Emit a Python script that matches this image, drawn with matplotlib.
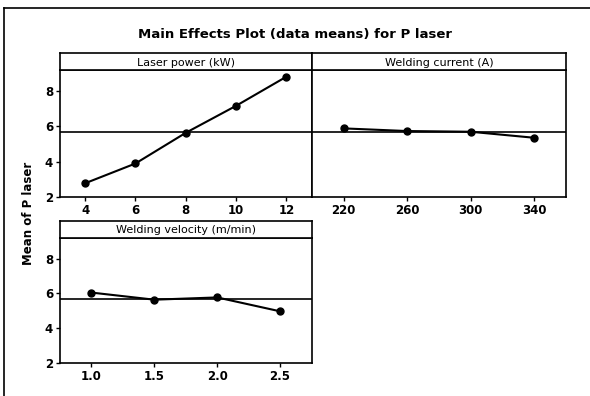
import matplotlib.pyplot as plt
from matplotlib.lines import Line2D

# dados
potencia_laser = [4, 6, 8, 10, 12]
media_potencia = [2.78, 3.90, 5.64, 7.17, 8.82]

corrente = [220, 260, 300, 340]
media_corrente = [5.89, 5.74, 5.70, 5.36]

velocidade = [1.0, 1.5, 2.0, 2.5]
media_velocidade = [6.04, 5.63, 5.76, 4.96]

media_geral = 5.66

paineis = [
    ("Laser power (kW)", potencia_laser, media_potencia, (3, 13), [4, 6, 8, 10, 12], None),
    ("Welding current (A)", corrente, media_corrente, (200, 360), [220, 260, 300, 340], None),
    ("Welding velocity (m/min)", velocidade, media_velocidade, (0.75, 2.75), [1.0, 1.5, 2.0, 2.5], "%.1f"),
]

# posições em fração da figura (x0, y0, largura, altura)
posicoes = [
    (0.1017, 0.5025, 0.4263, 0.3207),
    (0.5288, 0.5025, 0.4300, 0.3207),
    (0.1017, 0.0841, 0.4263, 0.3156),
]
altura_faixa = 0.042

fig = plt.figure(figsize=(5.9, 3.96), dpi=100)

for i, ((rotulo, x, y, xlim, xticks, fmt), (x0, y0, w, h)) in enumerate(zip(paineis, posicoes)):
    ax = fig.add_axes([x0, y0, w, h])
    ax.axhline(media_geral, color="black", lw=1.2, zorder=1)
    ax.plot(x, y, color="black", lw=1.5, marker="o", markersize=5, zorder=2)
    ax.set_xlim(*xlim)
    ax.set_ylim(2, 9.2)
    ax.set_xticks(xticks)
    if fmt:
        ax.set_xticklabels([fmt % v for v in xticks])
    ax.set_yticks([2, 4, 6, 8])
    ax.tick_params(direction="out", length=3, width=1, labelsize=8.5, pad=2)
    for lab in ax.get_xticklabels() + ax.get_yticklabels():
        lab.set_fontweight("bold")
    if i == 1:
        ax.tick_params(axis="y", left=False, labelleft=False)
    for s in ax.spines.values():
        s.set_linewidth(1.2)

    # faixa com o nome do fator
    faixa = fig.add_axes([x0, y0 + h, w, altura_faixa])
    faixa.set_xticks([])
    faixa.set_yticks([])
    for s in faixa.spines.values():
        s.set_linewidth(1.2)
    faixa.text(0.5, 0.45, rotulo, ha="center", va="center", fontsize=8)

fig.text(0.5, 0.912, "Main Effects Plot (data means) for P laser",
         ha="center", va="center", fontsize=9.5, fontweight="heavy")
fig.text(0.048, 0.46, "Mean of P laser", rotation=90, ha="center", va="center",
         fontsize=8.5, fontweight="bold")

# moldura externa (só esquerda e topo aparecem)
fig.add_artist(Line2D([4 / 590, 4 / 590], [0, 1 - 8 / 396], transform=fig.transFigure,
                      color="black", lw=1.2))
fig.add_artist(Line2D([4 / 590, 1], [1 - 8 / 396, 1 - 8 / 396], transform=fig.transFigure,
                      color="black", lw=1.2))

fig.savefig("out.png", dpi=100)
